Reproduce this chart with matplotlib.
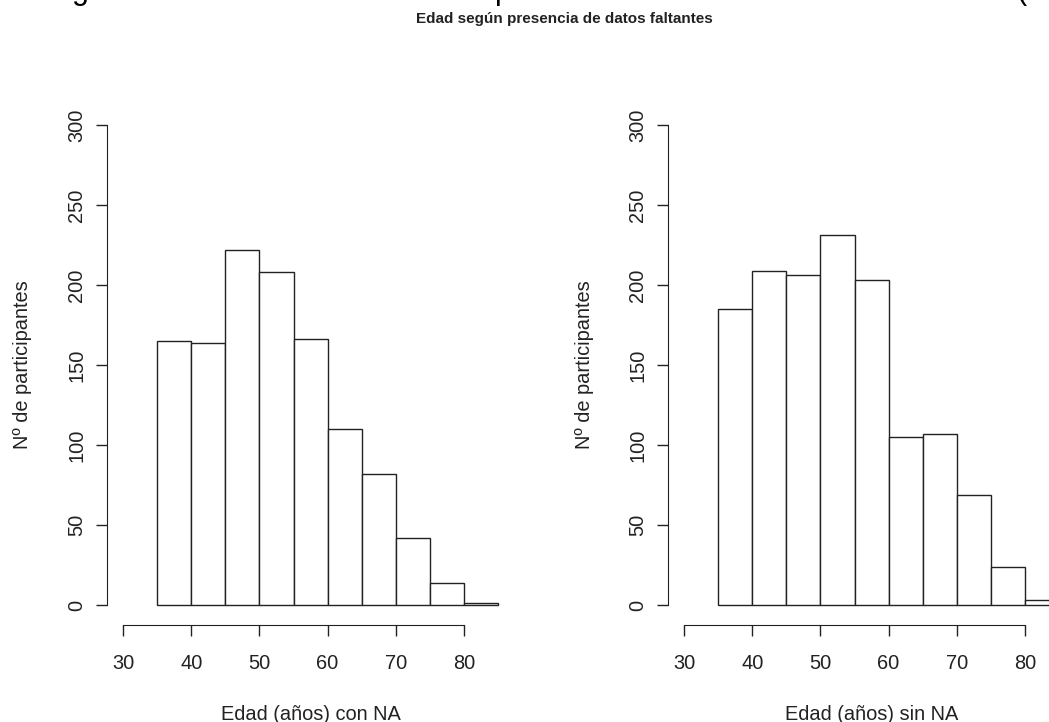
import matplotlib
matplotlib.use("Agg")
import matplotlib.pyplot as plt

# bins of 5 years, left edges
bin_edges = [35, 40, 45, 50, 55, 60, 65, 70, 75, 80]
counts_con_na = [165, 164, 222, 208, 166, 110, 82, 42, 14, 1]
counts_sin_na = [185, 209, 206, 231, 203, 105, 107, 69, 24, 3]

x_ticks = [30, 40, 50, 60, 70, 80]
y_ticks = [0, 50, 100, 150, 200, 250, 300]

title = "Edad según presencia de datos faltantes"
xlabels = ["Edad (años) con NA", "Edad (años) sin NA"]
ylabel = "Nº de participantes"

W, H = 1049, 722
FONT = ["Liberation Sans", "DejaVu Sans"]
plt.rcParams["font.family"] = FONT

fig = plt.figure(figsize=(W / 100, H / 100), dpi=100)


def fx(px):
    return px / W


def fy(py):
    return 1 - py / H


def panel(axis_px, zero_px, counts, xlab):
    # axis_px: pixel of the y axis line; zero_px: pixel of x=30
    sx = 6.82  # px per year
    sy = 1.6   # px per participant
    left, right = axis_px, axis_px + 425
    top, bottom = 100, 625
    ax = fig.add_axes([fx(left), fy(bottom), fx(right - left), (bottom - top) / H])
    ax.set_xlim(30 + (left - zero_px) / sx, 30 + (right - zero_px) / sx)
    ax.set_ylim((605 - bottom) / sy, (605 - top) / sy)
    ax.bar(bin_edges, counts, width=5, align="edge", facecolor="white",
           edgecolor="#222222", linewidth=1.0)
    for s in ["top", "right"]:
        ax.spines[s].set_visible(False)
    ax.spines["left"].set_bounds(0, 300)
    ax.spines["bottom"].set_bounds(30, 80)
    ax.spines["left"].set_color("#222222")
    ax.spines["bottom"].set_color("#222222")
    ax.set_xticks(x_ticks)
    ax.set_yticks(y_ticks)
    ax.tick_params(length=8, width=1.0, color="#222222", labelsize=14.4,
                   labelcolor="#222222")
    ax.tick_params(axis="x", pad=13)
    ax.tick_params(axis="y", pad=7)
    for lab in ax.get_yticklabels():
        lab.set_rotation(90)
        lab.set_va("center")
    ax.patch.set_visible(False)
    cx = zero_px + (57.5 - 30) * sx
    fig.text(fx(cx), fy(714), xlab, ha="center", va="center", fontsize=14.4,
             color="#222222")
    fig.text(fx(axis_px - 84), fy(365), ylabel, ha="center", va="center",
             rotation=90, fontsize=14.4, color="#222222")
    return ax


panel(107, 123, counts_con_na, xlabels[0])
panel(668, 684, counts_sin_na, xlabels[1])

fig.text(fx(564), fy(19), title, ha="center", va="center", fontsize=11,
         fontweight="bold", color="#222222")

# descenders of a larger heading cropped off above the figure
for ch, px in [("g", 80), ("p", 503), ("(", 1021)]:
    fig.text(fx(px), 1 + 1.5 / H, ch, ha="center", va="baseline", fontsize=22,
             color="black")

fig.savefig("out.png", dpi=100)
